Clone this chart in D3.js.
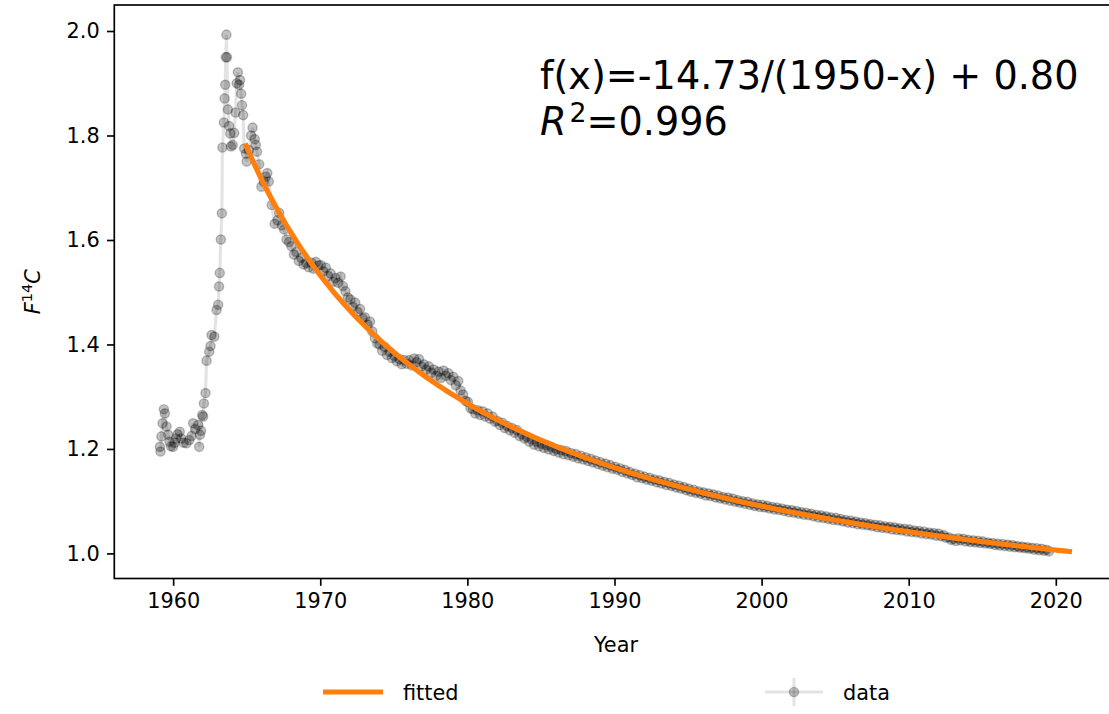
<!DOCTYPE html>
<html><head><meta charset="utf-8">
<script src="https://cdn.jsdelivr.net/npm/d3@7/dist/d3.min.js"></script>
<style>
body{margin:0;background:#fff;}
svg{display:block;}
text{font-family:"DejaVu Sans",sans-serif;fill:#000;}
</style>
</head><body>
<svg id="chart" width="1109" height="714"></svg>
<script>
// ---- data ----
const years = [
1959.10,1959.14,1959.20,1959.28,1959.37,1959.44,1959.55,1959.66,1959.75,1959.85,
1960.00,1960.10,1960.20,1960.30,1960.45,1960.55,1960.70,1960.90,1961.10,1961.25,
1961.36,1961.50,1961.70,1961.77,1961.82,1961.90,1961.97,1962.04,1962.09,1962.20,
1962.27,1962.45,1962.54,1962.61,1962.80,1962.95,1963.06,1963.12,1963.17,1963.24,
1963.31,1963.35,1963.45,1963.50,1963.54,1963.58,1963.62,1963.66,1963.72,1963.80,
1963.88,1963.93,1964.05,1964.15,1964.24,1964.32,1964.40,1964.48,1964.55,1964.62,
1964.68,1964.76,1964.83,1964.95,
1965.00,1965.15,1965.30,1965.40,1965.55,1965.62,1965.70,1965.85,1966.00,1966.15,
1966.30,1966.40,1966.50,1966.70,1966.90,1967.10,
1967.21,1967.38,1967.54,1967.71,1967.88,
1968.04,1968.21,1968.38,1968.54,1968.71,1968.88,
1969.04,1969.21,1969.38,1969.54,1969.71,1969.88,
1970.04,1970.21,1970.38,1970.54,1970.71,1970.88,
1971.04,1971.21,1971.38,1971.54,1971.71,1971.88,
1972.04,1972.21,1972.38,1972.54,1972.71,1972.88,
1973.04,1973.21,1973.38,1973.54,1973.71,1973.88,
1974.04,1974.21,1974.38,1974.54,1974.71,1974.88,
1975.04,1975.21,1975.38,1975.54,1975.71,1975.88,
1976.04,1976.21,1976.38,1976.54,1976.71,1976.88,
1977.04,1977.21,1977.38,1977.54,1977.71,1977.88,
1978.04,1978.21,1978.38,1978.54,1978.71,1978.88,
1979.04,1979.21,1979.38,1979.54,1979.71,1979.88,
1980.04,1980.21,1980.38,1980.54,1980.71,1980.88,
1981.04,1981.21,1981.38,1981.54,1981.71,1981.88,
1982.04,1982.21,1982.38,1982.54,1982.71,1982.88,
1983.04,1983.21,1983.38,1983.54,1983.71,1983.88,
1984.04,1984.21,1984.38,1984.54,1984.71,1984.88,
1985.04,1985.21,1985.38,1985.54,1985.71,1985.88,
1986.04,1986.21,1986.38,1986.54,1986.71,1986.88,
1987.04,1987.21,1987.38,1987.54,1987.71,1987.88,
1988.04,1988.21,1988.38,1988.54,1988.71,1988.88,
1989.04,1989.21,1989.38,1989.54,1989.71,1989.88,
1990.04,1990.21,1990.38,1990.54,1990.71,1990.88,
1991.04,1991.21,1991.38,1991.54,1991.71,1991.88,
1992.04,1992.21,1992.38,1992.54,1992.71,1992.88,
1993.04,1993.21,1993.38,1993.54,1993.71,1993.88,
1994.04,1994.21,1994.38,1994.54,1994.71,1994.88,
1995.04,1995.21,1995.38,1995.54,1995.71,1995.88,
1996.04,1996.21,1996.38,1996.54,1996.71,1996.88,
1997.04,1997.21,1997.38,1997.54,1997.71,1997.88,
1998.04,1998.21,1998.38,1998.54,1998.71,1998.88,
1999.04,1999.21,1999.38,1999.54,1999.71,1999.88,
2000.04,2000.21,2000.38,2000.54,2000.71,2000.88,
2001.04,2001.21,2001.38,2001.54,2001.71,2001.88,
2002.04,2002.21,2002.38,2002.54,2002.71,2002.88,
2003.04,2003.21,2003.38,2003.54,2003.71,2003.88,
2004.04,2004.21,2004.38,2004.54,2004.71,2004.88,
2005.04,2005.21,2005.38,2005.54,2005.71,2005.88,
2006.04,2006.21,2006.38,2006.54,2006.71,2006.88,
2007.04,2007.21,2007.38,2007.54,2007.71,2007.88,
2008.04,2008.21,2008.38,2008.54,2008.71,2008.88,
2009.04,2009.21,2009.38,2009.54,2009.71,2009.88,
2010.04,2010.21,2010.38,2010.54,2010.71,2010.88,
2011.04,2011.21,2011.38,2011.54,2011.71,2011.88,
2012.04,2012.21,2012.38,2012.54,2012.71,2012.88,
2013.04,2013.21,2013.38,2013.54,2013.71,2013.88,
2014.04,2014.21,2014.38,2014.54,2014.71,2014.88,
2015.04,2015.21,2015.38,2015.54,2015.71,2015.88,
2016.04,2016.21,2016.38,2016.54,2016.71,2016.88,
2017.04,2017.21,2017.38,2017.54,2017.71,2017.88,
2018.04,2018.21,2018.38,2018.54,2018.71,2018.88,
2019.04,2019.21,2019.38,2019.54
];
const f14c = [
1.204,1.195,1.224,1.249,1.276,1.268,1.243,1.227,1.214,1.205,
1.204,1.212,1.220,1.228,1.233,1.220,1.212,1.211,1.217,1.225,
1.249,1.238,1.246,1.204,1.227,1.235,1.265,1.262,1.287,1.307,
1.369,1.386,1.397,1.418,1.415,1.466,1.476,1.511,1.537,1.601,
1.651,1.777,1.825,1.871,1.897,1.950,1.993,1.950,1.850,1.818,
1.804,1.779,1.782,1.805,1.844,1.900,1.921,1.897,1.906,1.880,
1.858,1.839,1.775,1.765,
1.750,1.772,1.800,1.815,1.793,1.782,1.769,1.745,1.702,1.712,
1.721,1.728,1.712,1.667,1.631,1.638,
1.652,1.628,1.620,1.601,1.596,
1.588,1.572,1.577,1.560,1.566,1.553,
1.556,1.548,1.557,1.545,1.558,1.551,
1.552,1.540,1.547,1.531,1.536,1.520,
1.527,1.518,1.530,1.512,1.502,1.490,
1.486,1.472,1.480,1.462,1.468,1.450,
1.452,1.438,1.444,1.425,1.412,1.402,
1.400,1.388,1.395,1.380,1.386,1.374,
1.378,1.368,1.372,1.362,1.370,1.363,
1.370,1.360,1.373,1.366,1.372,1.358,
1.362,1.352,1.358,1.346,1.352,1.340,
1.348,1.336,1.350,1.340,1.345,1.332,
1.338,1.322,1.330,1.312,1.304,1.292,
1.290,1.278,1.276,1.268,1.274,1.265,
1.272,1.262,1.268,1.258,1.262,1.252,
1.254,1.246,1.250,1.240,1.244,1.236,
1.240,1.231,1.236,1.225,1.228,1.220,
1.223,1.214,1.218,1.208,1.214,1.205,
1.210,1.202,1.207,1.199,1.204,1.196,
1.200,1.193,1.198,1.190,1.196,1.188,
1.192,1.185,1.190,1.182,1.187,1.180,
1.184,1.177,1.181,1.174,1.178,1.171,
1.175,1.168,1.172,1.165,1.169,1.162,
1.166,1.160,1.163,1.156,1.160,1.153,
1.156,1.150,1.153,1.146,1.150,1.144,
1.147,1.141,1.145,1.139,1.142,1.136,
1.140,1.134,1.137,1.131,1.135,1.129,
1.132,1.126,1.130,1.124,1.127,1.121,
1.124,1.118,1.122,1.116,1.119,1.114,
1.117,1.111,1.115,1.110,1.113,1.107,
1.111,1.105,1.108,1.103,1.107,1.101,
1.105,1.099,1.102,1.097,1.100,1.095,
1.099,1.093,1.096,1.091,1.094,1.089,
1.093,1.088,1.091,1.086,1.089,1.084,
1.088,1.083,1.086,1.081,1.084,1.079,
1.083,1.078,1.081,1.076,1.079,1.074,
1.078,1.073,1.076,1.071,1.074,1.069,
1.073,1.068,1.071,1.066,1.069,1.064,
1.068,1.063,1.066,1.061,1.064,1.059,
1.063,1.058,1.061,1.056,1.059,1.055,
1.058,1.054,1.056,1.052,1.055,1.050,
1.054,1.049,1.052,1.048,1.051,1.046,
1.050,1.045,1.048,1.044,1.047,1.042,
1.046,1.041,1.044,1.040,1.043,1.038,
1.042,1.037,1.040,1.036,1.039,1.034,
1.038,1.033,1.035,1.030,1.031,1.026,
1.028,1.024,1.029,1.025,1.028,1.023,
1.026,1.022,1.025,1.021,1.024,1.020,
1.023,1.019,1.021,1.018,1.020,1.016,
1.019,1.015,1.018,1.014,1.017,1.013,
1.016,1.012,1.014,1.011,1.013,1.010,
1.012,1.009,1.011,1.007,1.010,1.006,
1.009,1.005,1.007,1.004
];
const xTicks = [1960, 1970, 1980, 1990, 2000, 2010, 2020];
const yTicks = [1.0, 1.2, 1.4, 1.6, 1.8, 2.0];
const fitA = 14.73;          // f(x) = -fitA/(1950-x) + fitC
const fitC = 0.796;
const fitOrigin = 1950;
const fitSpan = [1964.9, 2021.1];
const xDomain = [1956.0, 2024.2];
const yDomain = [0.952, 2.0498];
const equationText = "f(x)=-14.73/(1950-x) + 0.80";
const r2Text = "=0.996";
const legendLabels = ["fitted", "data"];

// ---- drawing ----
const svg = d3.select("#chart");
const L = 114.3, R = 1117.6, T = 5, B = 578.5;
const x = d3.scaleLinear().domain(xDomain).range([L, R]);
const y = d3.scaleLinear().domain(yDomain).range([B, T]);
const orange = "#ff7f0e";
const pt = 150 / 72;
const mAlpha = 0.24, mR = 4.6;

svg.append("defs").append("clipPath").attr("id", "plotclip")
  .append("rect").attr("x", L).attr("y", T).attr("width", R - L).attr("height", B - T);

const plot = svg.append("g").attr("clip-path", "url(#plotclip)");
const pts = years.map((yr, i) => [yr, f14c[i]]);

// data connecting line
plot.append("path")
  .datum(pts)
  .attr("d", d3.line().x(d => x(d[0])).y(d => y(d[1])))
  .attr("fill", "none")
  .attr("stroke", "#000")
  .attr("stroke-opacity", 0.11)
  .attr("stroke-width", 1.5 * pt);

// markers
plot.append("g").selectAll("circle").data(pts).enter().append("circle")
  .attr("cx", d => x(d[0])).attr("cy", d => y(d[1]))
  .attr("r", mR)
  .attr("fill", "#000").attr("fill-opacity", mAlpha)
  .attr("stroke", "#000").attr("stroke-opacity", mAlpha).attr("stroke-width", 1.4);

// fitted curve
const fitPts = d3.range(0, 301).map(i => {
  const t = fitSpan[0] + (fitSpan[1] - fitSpan[0]) * i / 300;
  return [t, -fitA / (fitOrigin - t) + fitC];
});
plot.append("path").datum(fitPts)
  .attr("d", d3.line().x(d => x(d[0])).y(d => y(d[1])))
  .attr("fill", "none").attr("stroke", orange).attr("stroke-width", 2.5 * pt)
  .attr("stroke-linecap", "butt");

// axes
const fs = 10 * pt;
const xAxis = d3.axisBottom(x).tickValues(xTicks).tickFormat(d3.format("d"))
  .tickSize(3.5 * pt).tickPadding(3.5 * pt);
const gx = svg.append("g").attr("transform", `translate(0,${B})`).call(xAxis);
gx.select(".domain").remove();
gx.selectAll(".tick line").attr("stroke", "#000").attr("stroke-width", 0.8 * pt);
gx.selectAll(".tick text").attr("font-size", fs).attr("font-family", "DejaVu Sans").attr("fill", "#000");

const yAxis = d3.axisLeft(y).tickValues(yTicks).tickFormat(d3.format(".1f"))
  .tickSize(3.5 * pt).tickPadding(3.5 * pt);
const gy = svg.append("g").attr("transform", `translate(${L},0)`).call(yAxis);
gy.select(".domain").remove();
gy.selectAll(".tick line").attr("stroke", "#000").attr("stroke-width", 0.8 * pt);
gy.selectAll(".tick text").attr("font-size", fs).attr("font-family", "DejaVu Sans").attr("fill", "#000");

// spines
svg.append("rect").attr("x", L).attr("y", T).attr("width", R - L).attr("height", B - T)
  .attr("fill", "none").attr("stroke", "#000").attr("stroke-width", 0.8 * pt);

// axis labels
svg.append("text").attr("x", (L + R) / 2).attr("y", 652).attr("text-anchor", "middle")
  .attr("font-size", fs).text("Year");

const yl = svg.append("text").attr("text-anchor", "middle").attr("font-size", fs)
  .attr("transform", `translate(40,${(T + B) / 2}) rotate(-90)`);
yl.append("tspan").attr("font-style", "italic").text("F");
yl.append("tspan").attr("font-size", fs * 0.7).attr("dy", -8).text("14");
yl.append("tspan").attr("font-style", "italic").attr("dy", 8).text("C");

// equation annotation
const efs = 38.2;
svg.append("text").attr("x", 540).attr("y", 89).attr("font-size", efs).text(equationText);
const r2 = svg.append("text").attr("x", 540).attr("y", 135).attr("font-size", efs);
r2.append("tspan").attr("font-style", "italic").text("R");
r2.append("tspan").attr("font-size", efs * 0.7).attr("dy", -13).attr("dx", 3).text("2");
r2.append("tspan").attr("dy", 13).text(r2Text);

// legend
const ly = 692;
svg.append("line").attr("x1", 323).attr("x2", 383).attr("y1", ly).attr("y2", ly)
  .attr("stroke", orange).attr("stroke-width", 2.5 * pt);
svg.append("text").attr("x", 403).attr("y", ly + 7.5).attr("font-size", fs).text(legendLabels[0]);

const lg = svg.append("g");
lg.append("line").attr("x1", 765).attr("x2", 823).attr("y1", ly).attr("y2", ly)
  .attr("stroke", "#000").attr("stroke-opacity", 0.11).attr("stroke-width", 1.5 * pt);
lg.append("line").attr("x1", 794).attr("x2", 794).attr("y1", ly - 14).attr("y2", ly + 14)
  .attr("stroke", "#000").attr("stroke-opacity", 0.11).attr("stroke-width", 1.5 * pt);
lg.append("circle").attr("cx", 794).attr("cy", ly).attr("r", mR)
  .attr("fill", "#000").attr("fill-opacity", mAlpha)
  .attr("stroke", "#000").attr("stroke-opacity", mAlpha).attr("stroke-width", 1.4);
svg.append("text").attr("x", 843).attr("y", ly + 7.5).attr("font-size", fs).text(legendLabels[1]);
</script>
</body></html>
